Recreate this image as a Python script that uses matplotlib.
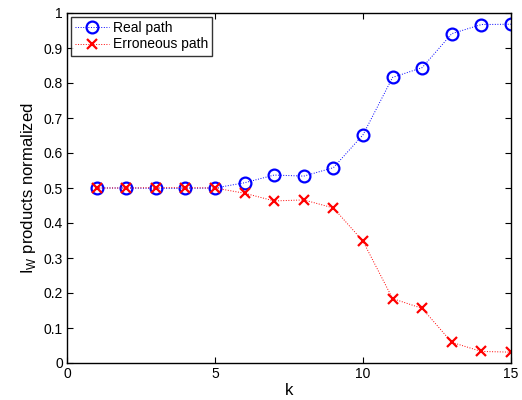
import matplotlib
matplotlib.use("Agg")
import matplotlib.pyplot as plt

plt.rcParams['font.family'] = ['Liberation Sans', 'DejaVu Sans']
plt.rcParams['mathtext.fontset'] = 'custom'
plt.rcParams['mathtext.rm'] = 'Liberation Sans'

k = [1, 2, 3, 4, 5, 6, 7, 8, 9, 10, 11, 12, 13, 14, 15]
real_path = [0.500, 0.500, 0.499, 0.499, 0.500, 0.515, 0.537, 0.534, 0.558, 0.652, 0.816, 0.844, 0.941, 0.967, 0.968]
err_path = [0.500, 0.500, 0.501, 0.501, 0.500, 0.485, 0.463, 0.466, 0.443, 0.348, 0.184, 0.156, 0.059, 0.033, 0.031]

xticks = [0, 5, 10, 15]
yticks = [0, 0.1, 0.2, 0.3, 0.4, 0.5, 0.6, 0.7, 0.8, 0.9, 1]
ytick_labels = ['0', '0.1', '0.2', '0.3', '0.4', '0.5', '0.6', '0.7', '0.8', '0.9', '1']

fig = plt.figure(figsize=(5.22, 4.0), dpi=100)
ax = fig.add_axes([67/522, 37/400, 444/522, 350/400])

ax.plot(k, real_path, color='blue', linestyle=':', marker='o', markersize=8.5,
        markerfacecolor='none', markeredgewidth=1.6, linewidth=0.7, label='Real path')
ax.plot(k, err_path, color='red', linestyle=':', marker='x', markersize=6.5,
        markeredgewidth=1.6, linewidth=0.7, label='Erroneous path')

ax.set_xlim(0, 15)
ax.set_ylim(0, 1)
ax.set_xticks(xticks)
ax.set_xticklabels([str(t) for t in xticks])
ax.set_yticks(yticks)
ax.set_yticklabels(ytick_labels)
ax.tick_params(direction='in', top=True, right=True, labelsize=10, length=4, width=0.8, pad=3)
for s in ax.spines.values():
    s.set_linewidth(1.0)

ax.set_xlabel('k', fontsize=12, labelpad=1)
ax.set_ylabel(r'I$_{\mathregular{W}}$ products normalized', fontsize=12, labelpad=4)

leg = ax.legend(loc='upper left', fontsize=10, frameon=True, fancybox=False,
                edgecolor='black', borderaxespad=0.3, handlelength=2.4,
                borderpad=0.3, labelspacing=0.15, handletextpad=0.3)
leg.get_frame().set_linewidth(1.0)

fig.savefig('out.png', dpi=100)
